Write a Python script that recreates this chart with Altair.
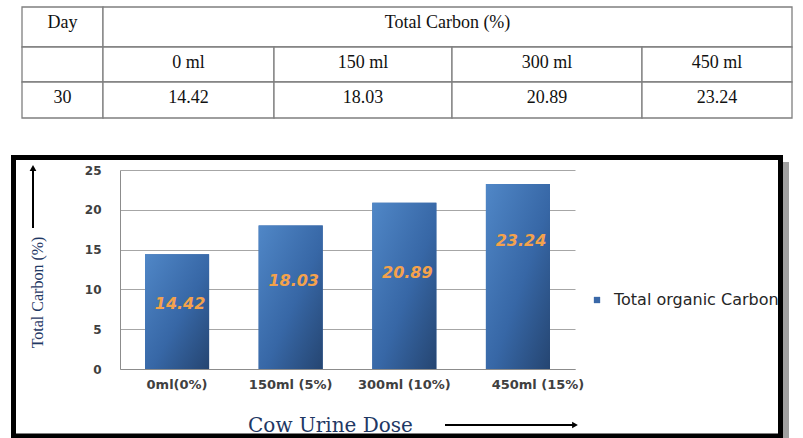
import altair as alt
import pandas as pd

# ---------------- data ----------------
table_doses = ["0 ml", "150 ml", "300 ml", "450 ml"]
dose_labels = ["0ml(0%)", "150ml (5%)", "300ml (10%)", "450ml (15%)"]
total_carbon = [14.42, 18.03, 20.89, 23.24]
label_at = [8.2, 11.05, 12.05, 16.1]          # where the value labels sit (data units)
day = "30"
y_ticks = [0, 5, 10, 15, 20, 25]
series_name = "Total organic Carbon"
table_header = ["Day", "Total Carbon (%)"]

# ---------------- table layout (cell sizes) ----------------
col_widths = [81, 171, 178, 190, 150]
row_heights = [40, 35, 36]

col_edges = [0]
for w in col_widths:
    col_edges.append(col_edges[-1] + w)
row_edges = [0]
for h in row_heights:
    row_edges.append(row_edges[-1] + h)

cells = []
def add_cell(c0, c1, r, text):
    cells.append({
        "x0": col_edges[c0], "x1": col_edges[c1],
        "y0": row_edges[r], "y1": row_edges[r + 1],
        "xc": (col_edges[c0] + col_edges[c1]) / 2,
        "yt": row_edges[r] + 16,
        "label": text,
    })

add_cell(0, 1, 0, table_header[0])
add_cell(1, 5, 0, table_header[1])
add_cell(0, 1, 1, "")
for i, d in enumerate(table_doses):
    add_cell(i + 1, i + 2, 1, d)
add_cell(0, 1, 2, day)
for i, v in enumerate(total_carbon):
    add_cell(i + 1, i + 2, 2, f"{v:.2f}")
cells_df = pd.DataFrame(cells)

tx = alt.Scale(domain=[0, col_edges[-1]], range=[-98, 672], nice=False, zero=False)
ty = alt.Scale(domain=[0, row_edges[-1]], range=[-163, -52], nice=False, zero=False)

table_rect = alt.Chart(cells_df).mark_rect(
    fill="white", stroke="#7f7f7f", strokeWidth=1.3
).encode(
    x=alt.X("x0:Q", scale=tx, axis=None), x2="x1:Q",
    y=alt.Y("y0:Q", scale=ty, axis=None), y2="y1:Q",
)
table_text = alt.Chart(cells_df).mark_text(
    font="Liberation Serif", fontSize=18, color="#111111", baseline="middle", align="center"
).encode(
    x=alt.X("xc:Q", scale=tx, axis=None),
    y=alt.Y("yt:Q", scale=ty, axis=None),
    text="label:N",
)
table = alt.layer(table_rect, table_text)

# ---------------- bar chart ----------------
df = pd.DataFrame({
    "dose": dose_labels,
    "carbon": total_carbon,
    "label_at": label_at,
    "txt": [f"{v:.2f}" for v in total_carbon],
    "series": [series_name] * len(total_carbon),
})

xs = alt.Scale(domain=dose_labels, paddingInner=0.436, paddingOuter=0.22)
ys = alt.Scale(domain=[0, 25], nice=False)

x_axis = alt.Axis(
    title="Cow Urine Dose", labelAngle=0, ticks=False, tickSize=0, grid=False,
    domainColor="#8c8c8c", labelFont="DejaVu Sans", labelFontSize=13,
    labelFontWeight="bold", labelColor="#404040", labelPadding=9,
    labelOffset={"condition": {"test": "datum.value === '450ml (15%)'", "value": 20}, "value": 0},
    titleFont="DejaVu Serif", titleFontSize=20, titleFontWeight="normal",
    titleColor="#1f3864", titleX=210, titleY=56, titleBaseline="middle", titleAlign="center",
)
y_axis = alt.Axis(
    values=y_ticks, title="Total Carbon (%)", ticks=False, tickSize=0, grid=True,
    labelOverlap=False, domainColor="#8c8c8c", gridColor="#a6a6a6", gridWidth=1,
    labelFont="DejaVu Sans", labelFontSize=12, labelFontWeight="bold",
    labelColor="#404040", labelPadding=19,
    titleFont="Liberation Serif", titleFontSize=16, titleFontWeight="normal",
    titleColor="#1f3864", titleAngle=270, titleX=-83, titleY=122,
    titleBaseline="middle", titleAlign="center",
)

def X():
    return alt.X("dose:N", scale=xs, sort=dose_labels, axis=x_axis)

def Y(field):
    return alt.Y(field, scale=ys, axis=y_axis)

base = alt.Chart(df)

bars_solid = base.mark_bar().encode(
    x=X(), y=Y("carbon:Q"),
    color=alt.Color(
        "series:N", scale=alt.Scale(range=["#3a68a8"]),
        legend=alt.Legend(
            title=None, orient="none", legendX=469, legendY=122, padding=0,
            symbolType="square", symbolSize=40, symbolStrokeWidth=0,
            labelFont="DejaVu Sans", labelFontSize=16, labelColor="#262626",
            labelOffset=9, labelLimit=400,
        ),
    ),
)

grad = alt.LinearGradient(
    gradient="linear",
    stops=[
        alt.GradientStop(color="#5087c7", offset=0),
        alt.GradientStop(color="#3767a6", offset=0.55),
        alt.GradientStop(color="#254571", offset=1),
    ],
    x1=0, y1=0, x2=1, y2=1,
)
bars_grad = base.mark_bar(color=grad).encode(x=X(), y=Y("carbon:Q"))

value_labels = base.mark_text(
    font="DejaVu Sans", fontSize=16, fontWeight="bold", fontStyle="italic",
    color="#f4a24c", dx=3, baseline="middle", align="center",
).encode(
    x=X(), y=Y("label_at:Q"), text="txt:N",
)

one = pd.DataFrame({"k": [0]})
# arrows next to axis titles
v_arrow = alt.Chart(one).mark_rule(color="black", strokeWidth=2).encode(
    x=alt.value(-87), y=alt.value(58), y2=alt.value(-1))
v_head = alt.Chart(one).mark_point(shape="triangle-up", filled=True, color="black", size=45, opacity=1).encode(
    x=alt.value(-87), y=alt.value(-2))
h_arrow = alt.Chart(one).mark_rule(color="black", strokeWidth=2).encode(
    x=alt.value(325), x2=alt.value(454), y=alt.value(255))
h_head = alt.Chart(one).mark_point(shape="triangle-right", filled=True, color="black", size=45, opacity=1).encode(
    x=alt.value(455), y=alt.value(255))

# frame around the chart
shadow = alt.Chart(one).mark_rect(fill="#a0a0a0").encode(
    x=alt.value(663), x2=alt.value(669), y=alt.value(-8), y2=alt.value(270))
frame = alt.Chart(one).mark_rect(fillOpacity=0, stroke="black", strokeWidth=5).encode(
    x=alt.value(-106.5), x2=alt.value(660.5), y=alt.value(-12.5), y2=alt.value(266))

chart_part = alt.layer(bars_solid, bars_grad, value_labels, v_arrow, v_head, h_arrow, h_head, shadow, frame)

chart = alt.layer(table, chart_part).resolve_scale(
    x="independent", y="independent"
).properties(
    width=455, height=199,
    autosize=alt.AutoSizeParams(type="none"),
    padding={"left": 120, "top": 170, "right": 228, "bottom": 69},
    background="white",
).configure_view(strokeWidth=0)

chart.save("out.html", embed_options={"renderer": "svg", "actions": False})
